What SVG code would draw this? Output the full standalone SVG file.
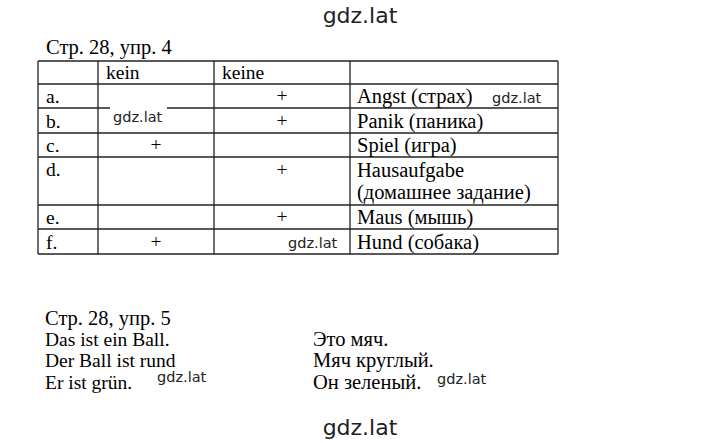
<svg xmlns="http://www.w3.org/2000/svg" width="720" height="443" viewBox="0 0 720 443">
<style>
.t{font-family:"Liberation Serif","Times New Roman",serif;font-size:19.5px;fill:#000}
.r{font-size:20.5px}
.c{text-anchor:middle}
.w{font-family:"DejaVu Sans","Liberation Sans",sans-serif;fill:#222}
.ws{font-size:14.5px}
.wl{font-size:22px;text-anchor:middle}
.g line{stroke:#222;stroke-width:1.3}
</style>
<rect width="720" height="443" fill="#fff"/>
<text class="w wl" x="360" y="23">gdz.lat</text>
<text class="t r" x="46" y="54">Стр. 28, упр. 4</text>
<g id="table" class="g">
<line x1="38" y1="61" x2="558" y2="61"/>
<line x1="38" y1="84" x2="558" y2="84"/>
<line x1="38" y1="108" x2="558" y2="108"/>
<line x1="38" y1="133" x2="558" y2="133"/>
<line x1="38" y1="157" x2="558" y2="157"/>
<line x1="38" y1="205" x2="558" y2="205"/>
<line x1="38" y1="229" x2="558" y2="229"/>
<line x1="38" y1="254" x2="558" y2="254"/>
<line x1="38" y1="61" x2="38" y2="254"/>
<line x1="98" y1="61" x2="98" y2="254"/>
<line x1="214" y1="61" x2="214" y2="254"/>
<line x1="350" y1="61" x2="350" y2="254"/>
<line x1="558" y1="61" x2="558" y2="254"/>
</g>
<g id="header">
<text class="t" x="106" y="79">kein</text>
<text class="t" x="222" y="79">keine</text>
</g>
<g id="row-a">
<text class="t" x="46" y="103">a.</text>
<text class="t c" x="282" y="102">+</text>
<text class="t r" x="357" y="103">Angst (страх)</text>
</g>
<g id="row-b">
<text class="t" x="46" y="128">b.</text>
<text class="t c" x="282" y="127">+</text>
<text class="t r" x="357" y="128">Panik (паника)</text>
</g>
<g id="row-c">
<text class="t" x="46" y="152">c.</text>
<text class="t c" x="156" y="151">+</text>
<text class="t r" x="357" y="152">Spiel (игра)</text>
</g>
<g id="row-d">
<text class="t" x="46" y="176">d.</text>
<text class="t c" x="282" y="176">+</text>
<text class="t r" x="357" y="177">Hausaufgabe</text>
<text class="t r" x="357" y="199">(домашнее задание)</text>
</g>
<g id="row-e">
<text class="t" x="46" y="224">e.</text>
<text class="t c" x="282" y="223">+</text>
<text class="t r" x="357" y="224">Maus (мышь)</text>
</g>
<g id="row-f">
<text class="t" x="46" y="249">f.</text>
<text class="t c" x="156" y="248">+</text>
<text class="t r" x="357" y="249">Hund (собака)</text>
</g>
<rect x="110" y="105" width="57" height="20" fill="#fff"/>
<text class="w ws" x="113" y="122">gdz.lat</text>
<text class="w ws" x="492" y="103">gdz.lat</text>
<text class="w ws" x="288" y="248">gdz.lat</text>
<g id="ex5">
<text class="t r" x="45" y="325">Стр. 28, упр. 5</text>
<text class="t" x="45" y="346">Das ist ein Ball.</text>
<text class="t" x="45" y="367">Der Ball ist rund</text>
<text class="t" x="45" y="389">Er ist grün.</text>
<text class="t r" x="313" y="346">Это мяч.</text>
<text class="t r" x="313" y="367">Мяч круглый.</text>
<text class="t r" x="313" y="389">Он зеленый.</text>
</g>
<rect x="150" y="368" width="52" height="18" fill="#fff"/>
<text class="w ws" x="157" y="382">gdz.lat</text>
<text class="w ws" x="437" y="384">gdz.lat</text>
<text class="w wl" x="360" y="435">gdz.lat</text>
</svg>
